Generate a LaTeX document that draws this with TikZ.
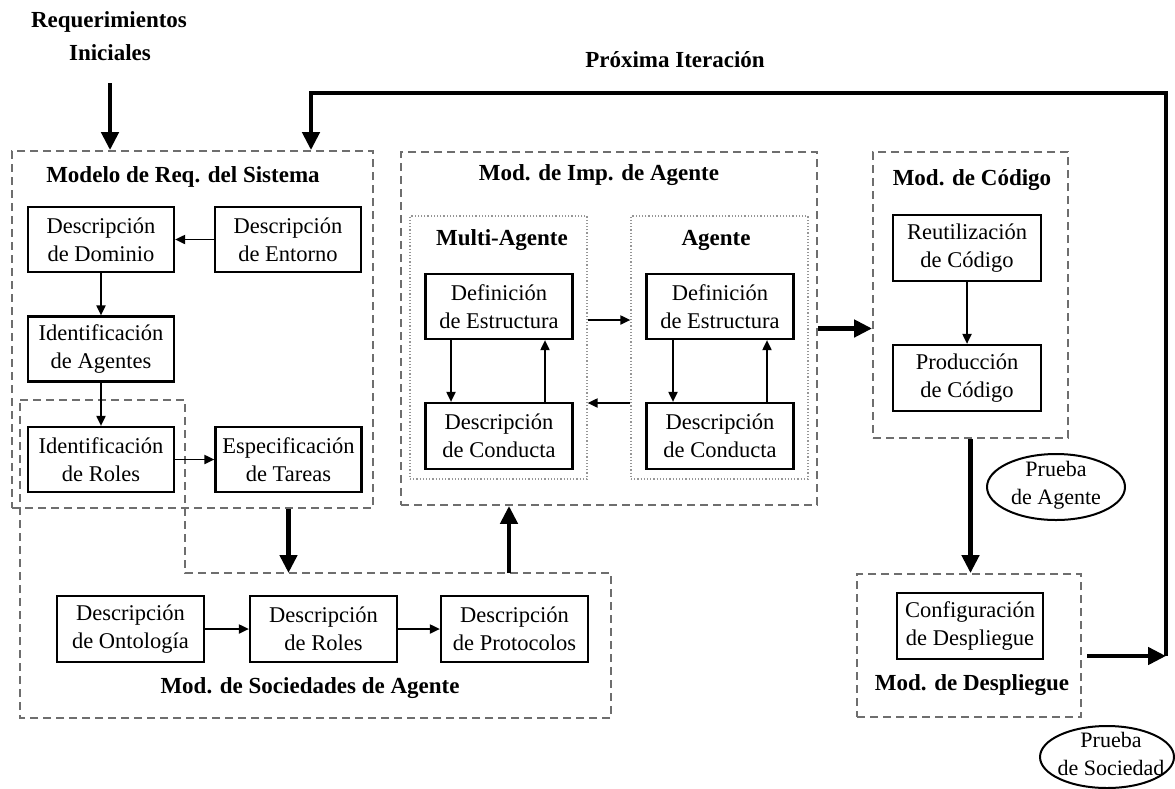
\documentclass[tikz,border=0pt]{standalone}
\usepackage{fontspec}
\setmainfont{Liberation Serif}
\usetikzlibrary{arrows.meta,shapes.geometric}
\definecolor{dashgray}{RGB}{110,110,110}
\definecolor{dotgray}{RGB}{150,150,150}
\tikzset{
  box/.style={draw, line width=2.2pt, minimum width=146pt, minimum height=65pt,
    inner sep=0pt, align=center, font=\fontsize{22.5}{28}\selectfont},
  cont/.style={draw=dashgray, line width=1.8pt, dash pattern=on 8pt off 5pt, inner sep=0pt},
  dotbox/.style={draw=dotgray, line width=1.2pt, dotted, inner sep=0pt},
  title/.style={font=\fontsize{23}{27}\selectfont\bfseries, inner sep=0pt},
  lbl/.style={align=center, inner sep=0pt, font=\fontsize{22}{28}\selectfont},
  test/.style={ellipse, draw, line width=2pt, inner sep=0pt},
  link/.style={line width=1.9pt, -{Triangle[length=10pt,width=9pt]}},
  heavy/.style={line width=4.5pt, -{Triangle[length=18pt,width=17pt]}}
}
\begin{document}
\begin{tikzpicture}[x=1pt,y=-1pt]
\useasboundingbox (0,0) rectangle (1175,788);
\fill[white] (0,0) rectangle (1175,788);

% dashed phase containers
\node[cont, minimum width=361pt, minimum height=357pt] (req) at (192.5,329.5) {};
\node[cont, minimum width=416pt, minimum height=353pt] (imp) at (609,328.5) {};
\node[dotbox, minimum width=177pt, minimum height=263pt] (ma) at (498.5,347.5) {};
\node[dotbox, minimum width=177pt, minimum height=263pt] (ag) at (719.5,347.5) {};
\node[cont, minimum width=195pt, minimum height=286pt] (cod) at (970.5,295) {};
\node[cont, minimum width=224pt, minimum height=143pt] (desp) at (969,645.5) {};

% society phase outline (shares the roles step with the requirements phase)
\coordinate (s1) at (20,400);
\coordinate (s2) at (185,400);
\coordinate (s3) at (185,573);
\coordinate (s4) at (611,573);
\coordinate (s5) at (611,718);
\coordinate (s6) at (20,718);
\draw[cont] (s1) -- (s2) -- (s3) -- (s4) -- (s5) -- (s6) -- cycle;

% titles
\node[title] (req1) at (109,22) {Requerimientos};
\node[title] (req2) at (110,53) {Iniciales};
\node[title] (prox) at (675,60) {Próxima Iteración};
\node[title] (reqT) at (183,177) {Modelo de Req. del Sistema};
\node[title] (impT) at (599,175) {Mod. de Imp. de Agente};
\node[title] (maT) at (502,240) {Multi-Agente};
\node[title] (agT) at (716,240) {Agente};
\node[title] (codT) at (972,180) {Mod. de Código};
\node[title] (despT) at (972,685) {Mod. de Despliegue};
\node[title] (socT) at (310,688) {Mod. de Sociedades de Agente};

% steps
\node[box] (dom) at (101,239.5) {Descripción\\de Dominio};
\node[box] (ent) at (288,239.5) {Descripción\\de Entorno};
\node[box] (iag) at (101,349) {Identificación\\de Agentes};
\node[box] (irol) at (101,459.5) {Identificación\\de Roles};
\node[box] (esp) at (288.5,459.5) {Especificación\\de Tareas};
\node[box, minimum width=147pt, minimum height=66pt] (ont) at (130.5,629) {Descripción\\de Ontología};
\node[box, minimum width=147pt, minimum height=66pt] (drol) at (323.5,629) {Descripción\\de Roles};
\node[box, minimum width=147pt, minimum height=66pt] (prot) at (514.5,629) {Descripción\\de Protocolos};
\node[box, minimum width=147pt] (madef) at (499,306.5) {Definición\\de Estructura};
\node[box, minimum width=147pt, minimum height=66pt] (macon) at (499,436) {Descripción\\de Conducta};
\node[box, minimum width=147pt] (adef) at (720,306.5) {Definición\\de Estructura};
\node[box, minimum width=147pt, minimum height=66pt] (acon) at (720,436) {Descripción\\de Conducta};
\node[box, minimum width=148pt, minimum height=66pt] (reu) at (967,248) {Reutilización\\de Código};
\node[box, minimum width=148pt, minimum height=66pt] (prod) at (967,378) {Producción\\de Código};
\node[box, minimum height=66pt] (conf) at (970,626) {Configuración\\de Despliegue};

% tests
\node[test, minimum width=138pt, minimum height=66pt,
  label={[lbl, yshift=2pt]center:{Prueba\\de Agente}}] (pa) at (1056,487) {};
\node[test, minimum width=134pt, minimum height=62pt,
  label={[lbl, xshift=4pt, yshift=3pt]center:{Prueba\\de Sociedad}}] (ps) at (1107,757) {};

% thin connectors
\draw[link] (ent) -- (dom);
\draw[link] (dom) -- (iag);
\draw[link] (iag) -- (irol);
\draw[link] (irol) -- (esp);
\draw[link] (ont) -- (drol);
\draw[link] (drol) -- (prot);
\draw[link] ([xshift=-48pt]madef.south) -- ([xshift=-48pt]macon.north);
\draw[link] ([xshift=46pt]macon.north) -- ([xshift=46pt]madef.south);
\draw[link] ([xshift=-47pt]adef.south) -- ([xshift=-47pt]acon.north);
\draw[link] ([xshift=47pt]acon.north) -- ([xshift=47pt]adef.south);
\draw[link] ([yshift=27.5pt]ma.east) -- ([yshift=27.5pt]ag.west);
\draw[link] ([yshift=-55.5pt]ag.west) -- ([yshift=-55.5pt]ma.east);
\draw[link] (reu) -- (prod);

% heavy connectors between phases
\draw[heavy] ([yshift=-22pt]req2.south) -- (req2.south |- req.north);
\draw[heavy] (esp.south |- req.south) -- (esp.south |- s3);
\coordinate (up) at (509,573);
\draw[heavy] (up) -- (up |- imp.south);
\draw[heavy] (imp.east) -- (cod.west |- imp.east);
\draw[heavy] (cod.south) -- (cod.south |- desp.north);

% iteration loop
\coordinate (dOut) at (1087,656);
\coordinate (loopR) at (1166,656);
\coordinate (loopT) at (1166,93);
\coordinate (fb) at (311,93);
\draw[heavy] (dOut) -- (loopR);
\draw[heavy] (loopR) -- (loopT) -- (fb) -- (fb |- req.north);
\end{tikzpicture}
\end{document}
